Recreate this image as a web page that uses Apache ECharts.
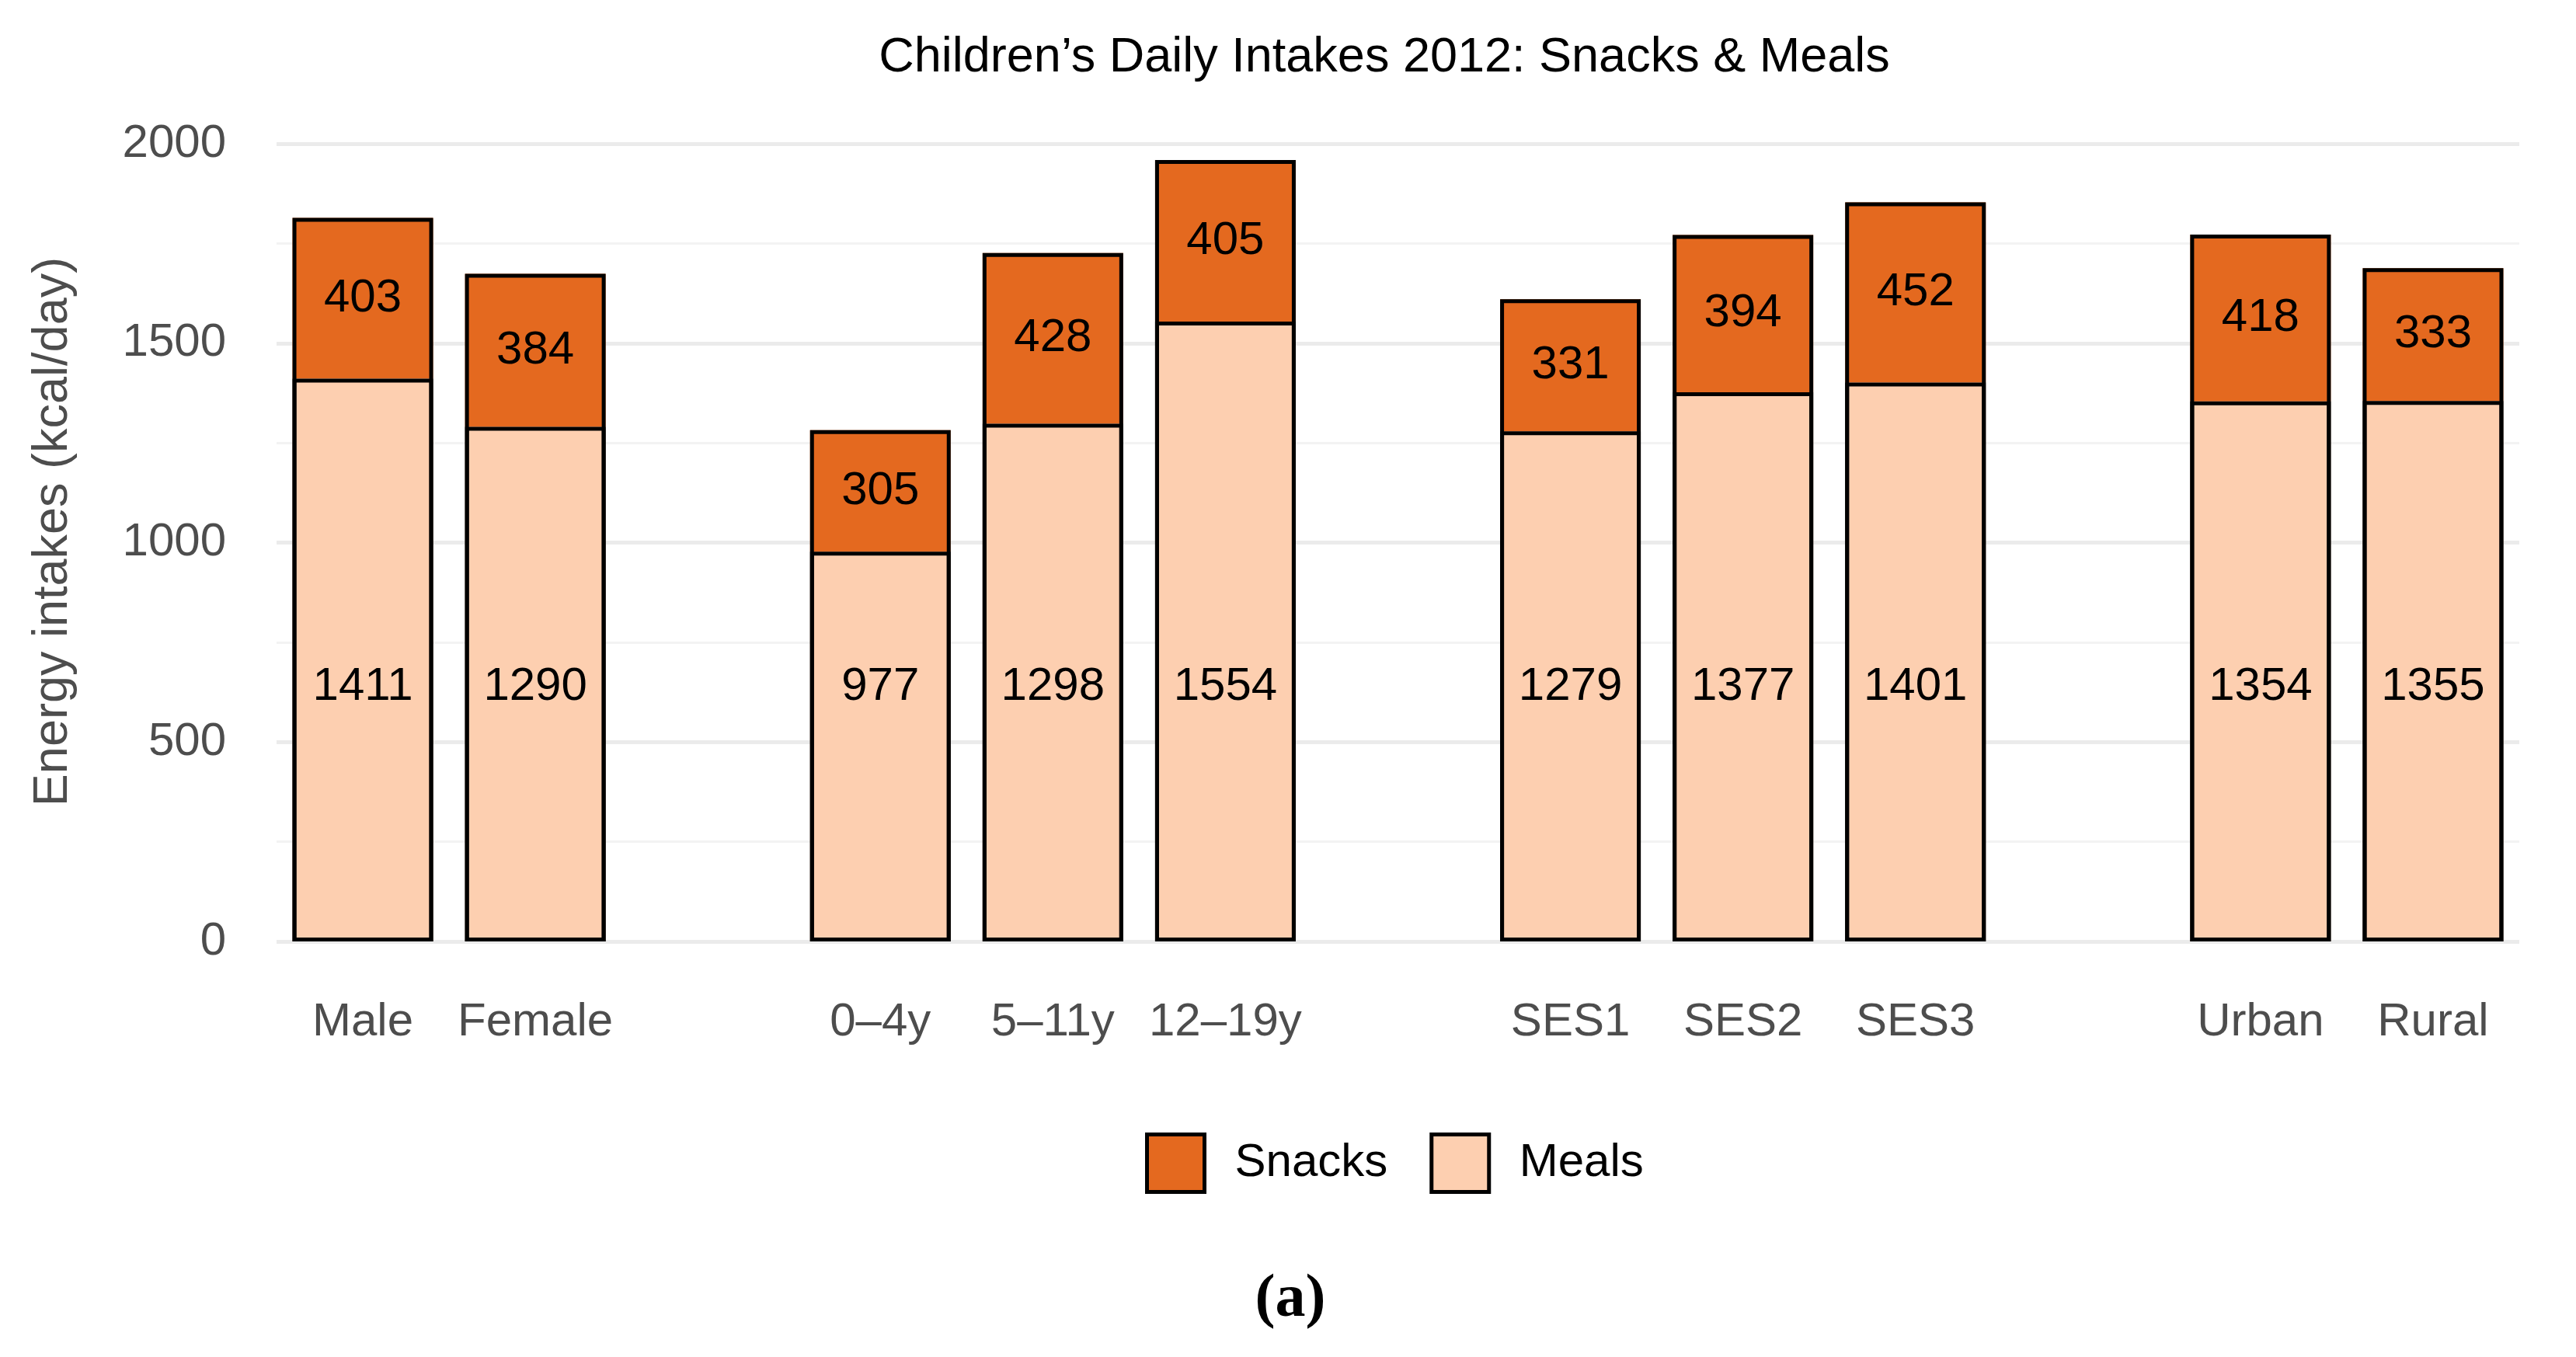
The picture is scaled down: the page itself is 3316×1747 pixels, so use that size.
<!DOCTYPE html>
<html>
<head>
<meta charset="utf-8">
<script src="https://cdn.jsdelivr.net/npm/echarts@6/dist/echarts.min.js"></script>
<style>html,body{margin:0;padding:0;background:#fff;}#c{width:3316px;height:1747px;}</style>
</head>
<body>
<div id="c"></div>
<script>
// Categories ('' marks a spacer slot between groups)
const categories = ['Male', 'Female', '', '0–4y', '5–11y', '12–19y', '', 'SES1', 'SES2', 'SES3', '', 'Urban', 'Rural'];
const meals  = [1411, 1290, null, 977, 1298, 1554, null, 1279, 1377, 1401, null, 1354, 1355];
const snacks = [403, 384, null, 305, 428, 405, null, 331, 394, 452, null, 418, 333];
const yTicks = [0, 500, 1000, 1500, 2000];

const totals = meals.map((m, i) => (m == null ? null : m + snacks[i]));

const FONT = '"Liberation Sans", Arial, sans-serif';
const SNACK_COLOR = '#E4691F';
const MEAL_COLOR = '#FDCFB0';
const BW = 5;

const chart = echarts.init(document.getElementById('c'), null, {renderer: 'canvas'});
chart.setOption({
  animation: false,
  backgroundColor: '#ffffff',
  title: {
    text: 'Children’s Daily Intakes 2012: Snacks & Meals',
    left: 1777, textAlign: 'center',
    top: 38,
    textStyle: {fontFamily: FONT, fontWeight: 'normal', fontSize: 63, color: '#000'}
  },
  legend: {
    data: [
      {name: 'Snacks', itemStyle: {color: SNACK_COLOR, borderColor: '#000', borderWidth: BW}},
      {name: 'Meals', itemStyle: {color: MEAL_COLOR, borderColor: '#000', borderWidth: BW}}
    ],
    left: 1469, top: 1453,
    itemWidth: 74, itemHeight: 74,
    itemGap: 54,
    icon: 'rect',
    textStyle: {fontFamily: FONT, fontSize: 60, color: '#000', padding: [0, 0, 0, 34]}
  },
  grid: {left: 356, right: 73, top: 185, bottom: 535, containLabel: false},
  xAxis: {
    type: 'category',
    data: categories,
    axisLine: {show: false},
    axisTick: {show: false},
    splitLine: {show: false},
    axisLabel: {fontFamily: FONT, fontSize: 60, color: '#4D4D4D', margin: 74, interval: 0}
  },
  yAxis: {
    type: 'value',
    min: yTicks[0], max: yTicks[yTicks.length - 1], interval: 500,
    name: 'Energy intakes (kcal/day)',
    nameLocation: 'middle',
    nameGap: 256,
    nameTextStyle: {fontFamily: FONT, fontSize: 63, color: '#4D4D4D', padding: [0, 0, 0, 28]},
    axisLine: {show: false},
    axisTick: {show: false},
    axisLabel: {fontFamily: FONT, fontSize: 60, color: '#4D4D4D', margin: 65,
                formatter: v => String(v)},
    splitLine: {show: true, lineStyle: {color: '#EBEBEB', width: 5}},
    minorTick: {show: false, splitNumber: 2},
    minorSplitLine: {show: true, lineStyle: {color: '#F3F3F3', width: 3}}
  },
  series: [
    {
      name: 'Meals', type: 'bar', stack: 'total',
      data: meals,
      barWidth: '81.5%', barGap: '-100%',
      itemStyle: {color: MEAL_COLOR, borderWidth: 0},
      label: {show: true, position: 'insideBottom', distance: 298,
              fontFamily: FONT, fontSize: 60, color: '#000'}
    },
    {
      name: 'Snacks', type: 'bar', stack: 'total',
      data: snacks,
      barWidth: '81.5%', barGap: '-100%',
      itemStyle: {color: SNACK_COLOR, borderWidth: 0},
      label: {show: true, position: 'inside', fontFamily: FONT, fontSize: 60, color: '#000'}
    },
    {
      name: 'outlineTotal', type: 'bar',
      data: totals,
      barWidth: '81.5%', barGap: '-100%',
      silent: true,
      itemStyle: {color: 'rgba(0,0,0,0)', borderColor: '#000', borderWidth: BW},
      label: {show: false}
    },
    {
      name: 'outlineMeals', type: 'bar',
      data: meals,
      barWidth: '81.5%', barGap: '-100%',
      silent: true,
      itemStyle: {color: 'rgba(0,0,0,0)', borderColor: '#000', borderWidth: BW},
      label: {show: false}
    }
  ],
  graphic: [{
    type: 'text',
    x: 1661, y: 1674,
    style: {text: '(a)', fontFamily: '"Liberation Serif", "Times New Roman", serif', fontWeight: 'bold',
            fontSize: 78, fill: '#000', textAlign: 'center', textVerticalAlign: 'middle'}
  }]
});
</script>
</body>
</html>
